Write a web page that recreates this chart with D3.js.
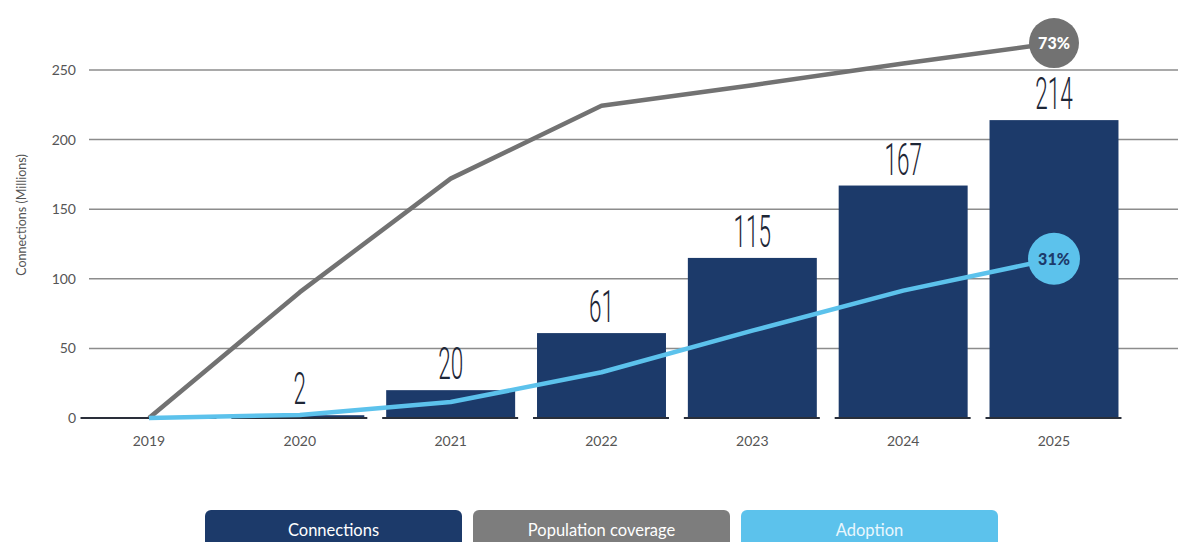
<!DOCTYPE html>
<html>
<head>
<meta charset="utf-8">
<script src="https://cdn.jsdelivr.net/npm/d3@7"></script>
<style>
  html, body { margin: 0; padding: 0; background: #ffffff; }
  svg { display: block; }
</style>
</head>
<body>
<svg id="chart" width="1178" height="542"></svg>
<script>
// Years on the x axis
const years = ["2019", "2020", "2021", "2022", "2023", "2024", "2025"];
// 5G connections, millions
const connections = [0, 2, 20, 61, 115, 167, 214];
// Population coverage, percent
const coverage = [0, 24.5, 46.6, 60.8, 64.8, 69, 73];
// Adoption, percent
const adoption = [0, 0.6, 3.1, 8.9, 17, 24.8, 31];
// Left axis ticks
const yTicks = [0, 50, 100, 150, 200, 250];
// Legend entries
const legendLabels = ["Connections", "Population coverage", "Adoption"];

const colors = {
  bar: "#1c3a6a",
  coverage: "#727272",
  adoption: "#5cc2ec",
  grid: "#8c8c8c",
  axisText: "#555555",
  valueText: "#1d2636"
};

const svg = d3.select("#chart");

const x = d3.scalePoint().domain(years).range([149, 1054]);
const barW = x.step() * 0.855;
const y = d3.scaleLinear().domain([0, 250]).range([418, 70]);
// percentage series share the plot on a secondary scale
const y2 = d3.scaleLinear().domain([0, 100]).range([y(0), y(369)]);

// Gridlines
svg.append("g")
  .selectAll("line")
  .data(yTicks.filter(d => d > 0))
  .join("line")
  .attr("x1", 89).attr("x2", 1178)
  .attr("y1", d => y(d)).attr("y2", d => y(d))
  .attr("stroke", colors.grid)
  .attr("stroke-width", 1.5);

// Left tick labels
svg.append("g")
  .selectAll("text")
  .data(yTicks)
  .join("text")
  .attr("x", 76)
  .attr("y", d => y(d))
  .attr("dy", "0.35em")
  .attr("text-anchor", "end")
  .attr("font-family", "Lato, 'Open Sans', sans-serif")
  .attr("font-size", 14)
  .attr("fill", colors.axisText)
  .text(d => d);

// Axis title
svg.append("text")
  .attr("transform", "translate(26,215) rotate(-90)")
  .attr("text-anchor", "middle")
  .attr("font-family", "Lato, 'Open Sans', sans-serif")
  .attr("font-size", 12.5)
  .attr("fill", colors.axisText)
  .text("Connections (Millions)");

// Year labels
svg.append("g")
  .selectAll("text")
  .data(years)
  .join("text")
  .attr("x", d => x(d))
  .attr("y", 446)
  .attr("text-anchor", "middle")
  .attr("font-family", "Lato, 'Open Sans', sans-serif")
  .attr("font-size", 14)
  .attr("fill", colors.axisText)
  .text(d => d);

const rows = years.map((yr, i) => ({ yr, c: connections[i], cov: coverage[i], ad: adoption[i] }));

// Bars
svg.append("g")
  .selectAll("rect")
  .data(rows.filter(d => d.c > 0))
  .join("rect")
  .attr("x", d => x(d.yr) - barW / 2)
  .attr("width", barW)
  .attr("y", d => y(d.c))
  .attr("height", d => y(0) - y(d.c))
  .attr("fill", colors.bar);

// Base strokes under each bar
svg.append("g")
  .selectAll("line")
  .data(rows)
  .join("line")
  .attr("x1", d => x(d.yr) - barW / 2 - 4)
  .attr("x2", d => x(d.yr) + barW / 2 + 3)
  .attr("y1", y(0)).attr("y2", y(0))
  .attr("stroke", "#2a2f3a")
  .attr("stroke-width", 2);

// Coverage line
svg.append("path")
  .datum(rows)
  .attr("fill", "none")
  .attr("stroke", colors.coverage)
  .attr("stroke-width", 4.5)
  .attr("stroke-linejoin", "round")
  .attr("d", d3.line().x(d => x(d.yr)).y(d => y2(d.cov)));

// Adoption line
svg.append("path")
  .datum(rows)
  .attr("fill", "none")
  .attr("stroke", colors.adoption)
  .attr("stroke-width", 4.5)
  .attr("stroke-linejoin", "round")
  .attr("d", d3.line().x(d => x(d.yr)).y(d => y2(d.ad)));

// Bar value labels (condensed light numerals)
svg.append("g")
  .selectAll("text")
  .data(rows.filter(d => d.c > 0))
  .join("text")
  .attr("transform", d => `translate(${x(d.yr)},${y(d.c) - 11}) scale(0.5,1)`)
  .attr("text-anchor", "middle")
  .attr("font-family", "Roboto, 'Liberation Sans', sans-serif")
  .attr("font-weight", 300)
  .attr("font-size", 45)
  .attr("fill", colors.valueText)
  .text(d => d.c);

// End-point badges
const last = rows[rows.length - 1];
const badges = [
  { v: last.cov, fill: colors.coverage, text: "#ffffff", r: 25 },
  { v: last.ad, fill: colors.adoption, text: "#1c3a6a", r: 26 }
];
const bg = svg.append("g")
  .selectAll("g")
  .data(badges)
  .join("g")
  .attr("transform", d => `translate(${x(last.yr)},${y2(d.v)})`);
bg.append("circle")
  .attr("r", d => d.r)
  .attr("fill", d => d.fill);
bg.append("text")
  .attr("text-anchor", "middle")
  .attr("dy", "0.36em")
  .attr("font-family", "Lato, 'Open Sans', sans-serif")
  .attr("font-weight", 900)
  .attr("font-size", 16)
  .attr("fill", d => d.text)
  .text(d => d.v + "%");

// Legend
const legendColors = [colors.bar, "#7d7d7d", colors.adoption];
const legendText = ["#ffffff", "#ffffff", "#eaf7fd"];
const legendX = [205, 473, 741];
const legendW = 257;
const lg = svg.append("g")
  .selectAll("g")
  .data(legendLabels)
  .join("g")
  .attr("transform", (d, i) => `translate(${legendX[i]},510)`);
lg.append("rect")
  .attr("width", legendW)
  .attr("height", 45)
  .attr("rx", 6)
  .attr("fill", (d, i) => legendColors[i]);
lg.append("text")
  .attr("x", legendW / 2)
  .attr("y", 26)
  .attr("text-anchor", "middle")
  .attr("font-family", "Lato, 'Open Sans', sans-serif")
  .attr("font-size", 16.5)
  .attr("fill", (d, i) => legendText[i])
  .text(d => d);
</script>
</body>
</html>
